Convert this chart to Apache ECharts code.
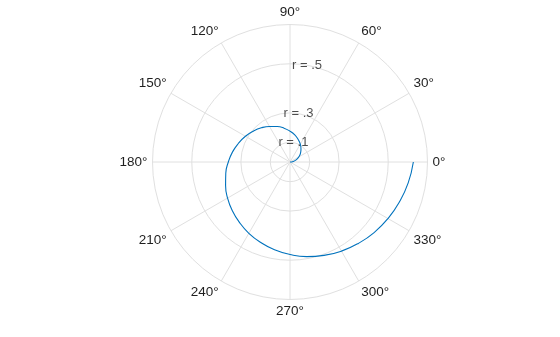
<!DOCTYPE html>
<html>
<head>
<meta charset="utf-8">
<script src="https://cdn.jsdelivr.net/npm/echarts@6/dist/echarts.min.js"></script>
<style>
html,body{margin:0;padding:0;background:#fff;}
#chart{width:560px;height:337px;}
</style>
</head>
<body>
<div id="chart"></div>
<script>
// Spiral samples (angle in degrees, radius)
var thetaDeg = [0,10,20,30,40,50,60,70,80,90,100,110,120,130,140,150,160,170,180,
                190,200,210,220,230,240,250,260,270,280,290,300,310,320,330,340,350,360];
var rhoValues = [0,0.017,0.035,0.052,0.070,0.087,0.105,0.122,0.140,0.157,0.175,0.192,0.209,
                 0.227,0.244,0.262,0.279,0.297,0.314,0.332,0.349,0.367,0.384,0.401,0.419,
                 0.436,0.454,0.471,0.489,0.506,0.524,0.541,0.559,0.576,0.593,0.611,0.628];
// Radial grid rings and their labels
var ringValues = [0.1, 0.25, 0.5];
var ringLabels = ['r = .1', 'r = .3', 'r = .5'];
var rMax = 0.7;

var spiral = thetaDeg.map(function (t, i) { return [rhoValues[i], t]; });
var labelAngle = 80;
var ringLabelData = ringValues.map(function (r, i) { return { value: [r, labelAngle], name: ringLabels[i] }; });

var gridColor = '#e0e0e0';
var textColor = '#1f1f1f';
var font = '"Liberation Sans", Arial, Helvetica, sans-serif';

var chart = echarts.init(document.getElementById('chart'), null, { renderer: 'canvas' });
chart.setOption({
  animation: false,
  backgroundColor: '#ffffff',
  polar: { center: [290, 162], radius: 137.5 },
  angleAxis: {
    type: 'value',
    min: 0, max: 360, interval: 30,
    startAngle: 0, clockwise: false,
    axisLine: { show: true, lineStyle: { color: gridColor, width: 1 } },
    axisTick: { show: false },
    splitLine: { show: true, lineStyle: { color: gridColor, width: 1 } },
    axisLabel: {
      show: true, margin: 5,
      formatter: function (v) { return v + '°'; },
      color: textColor, fontSize: 13.5, fontFamily: font
    }
  },
  radiusAxis: {
    type: 'value',
    min: 0, max: rMax,
    axisLine: { show: false },
    axisTick: { show: false, customValues: ringValues },
    axisLabel: { show: false, customValues: ringValues },
    splitLine: { show: true, lineStyle: { color: gridColor, width: 1 } }
  },
  series: [
    {
      type: 'line',
      coordinateSystem: 'polar',
      data: spiral,
      showSymbol: false,
      smooth: true,
      lineStyle: { color: '#0072BD', width: 1.1 },
      z: 2
    },
    {
      type: 'scatter',
      coordinateSystem: 'polar',
      data: ringLabelData,
      symbolSize: 0,
      silent: true,
      label: {
        show: true, position: 'inside',
        formatter: function (p) { return p.name; },
        color: textColor, fontSize: 13, fontFamily: font
      },
      z: 3
    }
  ]
});
</script>
</body>
</html>
